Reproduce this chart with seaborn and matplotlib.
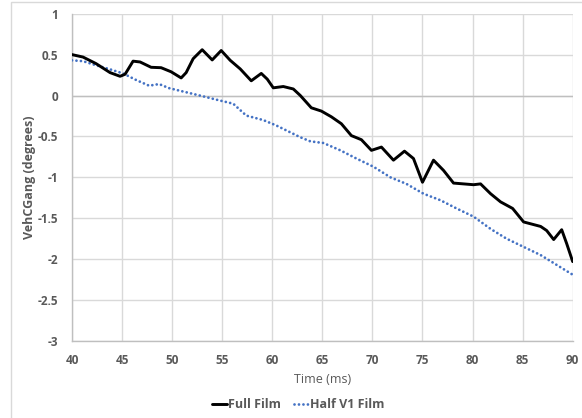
import matplotlib
matplotlib.use("Agg")
import matplotlib.pyplot as plt
import seaborn as sns
import pandas as pd
from matplotlib.patches import Rectangle
from matplotlib.lines import Line2D

# Series data: time (ms) and VehCGang (degrees)
full_time = [40, 41.1, 42.4, 43.8, 44.8, 45.3, 46.1, 46.8, 47.9, 48.9,
             49.9, 50.9, 51.4, 52.1, 53.0, 54.0, 54.9, 55.8, 56.8, 57.9,
             58.9, 59.5, 60.1, 61.1, 62.1, 62.8, 63.9, 64.9, 65.9, 66.9,
             67.9, 68.9, 69.9, 70.9, 72.1, 73.2, 74.1, 75.0, 76.1, 77.1,
             78.1, 79.1, 80.1, 80.8, 81.8, 82.8, 84.0, 85.1, 86.8, 87.4,
             88.1, 88.9, 89.4, 90]
full_vals = [0.50, 0.47, 0.39, 0.28, 0.235, 0.26, 0.42, 0.41, 0.345, 0.34,
             0.29, 0.215, 0.28, 0.45, 0.56, 0.435, 0.55, 0.43, 0.325, 0.18,
             0.27, 0.20, 0.094, 0.11, 0.08, 0.0, -0.15, -0.19, -0.26, -0.345,
             -0.49, -0.54, -0.67, -0.63, -0.79, -0.68, -0.77, -1.06, -0.79, -0.915,
             -1.07, -1.08, -1.09, -1.08, -1.2, -1.3, -1.38, -1.545, -1.6, -1.65,
             -1.76, -1.64, -1.81, -2.03]

half_time = [40, 41.1, 42.4, 43.8, 45.1, 46.4, 47.7, 48.7, 49.7, 51.4,
             53.1, 54.4, 56.1, 57.4, 59.1, 60.4, 61.8, 62.8, 63.8, 65.1,
             66.8, 68.4, 70.1, 71.8, 73.4, 75.1, 76.8, 78.4, 80.1, 81.8,
             83.4, 85.1, 86.8, 88.4, 90]
half_vals = [0.43, 0.42, 0.37, 0.32, 0.27, 0.19, 0.12, 0.14, 0.09, 0.04,
             -0.01, -0.05, -0.10, -0.245, -0.30, -0.366, -0.45, -0.51, -0.56, -0.58,
             -0.67, -0.77, -0.87, -1.0, -1.08, -1.2, -1.28, -1.38, -1.48, -1.63,
             -1.75, -1.85, -1.95, -2.07, -2.19]

series_names = ["Full Film", "Half V1 Film"]
x_ticks = [40, 45, 50, 55, 60, 65, 70, 75, 80, 85, 90]
y_ticks = [-3, -2.5, -2, -1.5, -1, -0.5, 0, 0.5, 1]
y_tick_labels = ["-3", "-2.5", "-2", "-1.5", "-1", "-0.5", "0", "0.5", "1"]

sns.set_theme(style="white")
plt.rcParams["font.family"] = ["Open Sans", "DejaVu Sans"]

TEXT = "#595959"
GRID = "#d9d9d9"
BLUE = "#4472C4"
DOTS = (0, (0.01, 1.6))

df_full = pd.DataFrame({"time": full_time, "val": full_vals})
df_half = pd.DataFrame({"time": half_time, "val": half_vals})

fig = plt.figure(figsize=(5.82, 4.18), dpi=100)
ax = fig.add_axes([72 / 582, 1 - 341 / 418, 500.7 / 582, (341 - 13.7) / 418])

# chart area border
fig.patches.append(Rectangle((11 / 582, -0.1), 1.2, 1 - 2.5 / 418 + 0.1,
                             transform=fig.transFigure, fill=False,
                             edgecolor="#d9d9d9", linewidth=1.0))

sns.lineplot(data=df_full, x="time", y="val", ax=ax, color="black",
             linewidth=2.1, estimator=None, sort=False, zorder=4)
ax.lines[-1].set_solid_joinstyle("round")
sns.lineplot(data=df_half, x="time", y="val", ax=ax, color=BLUE,
             linewidth=2.0, estimator=None, sort=False, zorder=3)
ax.lines[-1].set_linestyle(DOTS)
ax.lines[-1].set_dash_capstyle("round")

ax.set_xlim(40, 90)
ax.set_ylim(-3, 1)
ax.set_xticks(x_ticks)
ax.set_yticks(y_ticks)
ax.set_yticklabels(y_tick_labels)
ax.grid(True, color=GRID, linewidth=1.0, zorder=0)
ax.set_axisbelow(True)
ax.axhline(0, color="#bfbfbf", linewidth=1.0, zorder=1)

for side, sp in ax.spines.items():
    sp.set_visible(side in ("left", "bottom"))
    sp.set_color("#bfbfbf")
    sp.set_linewidth(1.0)

ax.tick_params(axis="both", length=0, labelsize=8.5, labelcolor=TEXT)
ax.tick_params(axis="y", pad=10)
ax.tick_params(axis="x", pad=9)
for lbl in ax.get_xticklabels() + ax.get_yticklabels():
    lbl.set_fontweight("bold")

ax.set_xlabel("Time (ms)", fontsize=9, color=TEXT, labelpad=5)
ax.set_ylabel("VehCGang (degrees)", fontsize=9, color=TEXT,
              fontweight="bold", labelpad=1)

handles = [Line2D([], [], color="black", linewidth=2.1),
           Line2D([], [], color=BLUE, linewidth=2.0,
                  linestyle=DOTS, dash_capstyle="round")]
fig.legend(handles, series_names, loc="center", bbox_to_anchor=(298 / 582, 1 - 405 / 418),
           ncol=2, frameon=False, handlelength=1.2, handletextpad=0.1,
           columnspacing=1.0, prop={"weight": "bold", "size": 9},
           labelcolor=TEXT)

fig.savefig("out.png", dpi=100)
